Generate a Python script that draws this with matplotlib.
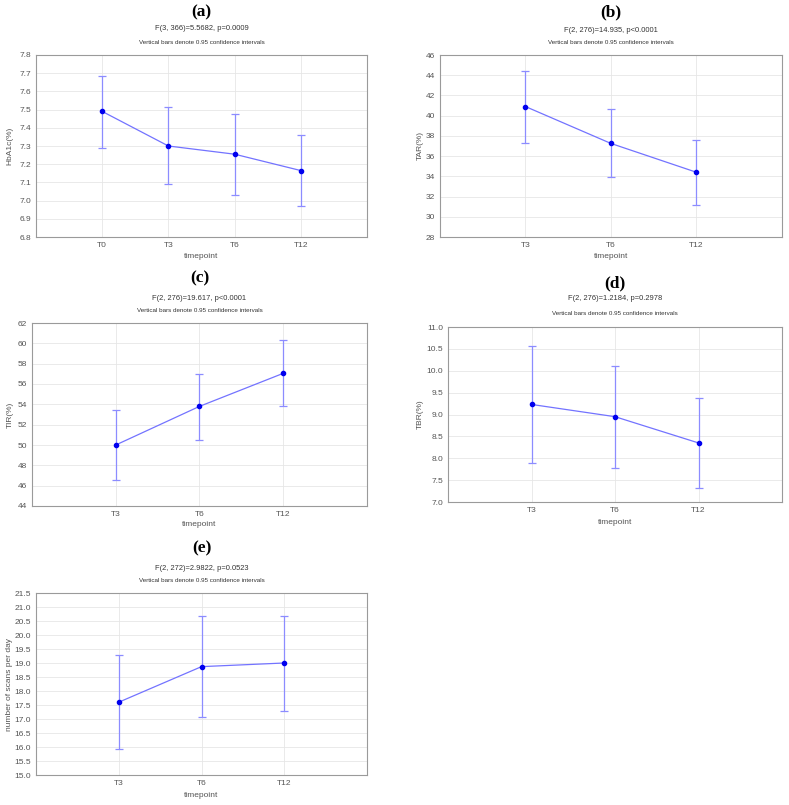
import matplotlib
matplotlib.use("Agg")
import matplotlib.pyplot as plt
import numpy as np

plt.rcParams['font.family'] = ['Liberation Sans', 'DejaVu Sans']

# ---------------- data ----------------
cats_a = ["T0", "T3", "T6", "T12"]
mean_a = [7.49, 7.30, 7.255, 7.165]
low_a = [7.29, 7.09, 7.03, 6.97]
high_a = [7.685, 7.515, 7.478, 7.36]

cats_b = ["T3", "T6", "T12"]
mean_b = [40.9, 37.25, 34.4]
low_b = [37.3, 33.9, 31.2]
high_b = [44.4, 40.7, 37.6]

cats_c = ["T3", "T6", "T12"]
mean_c = [50.0, 53.8, 57.05]
low_c = [46.55, 50.5, 53.85]
high_c = [53.4, 57.0, 60.3]

cats_d = ["T3", "T6", "T12"]
mean_d = [9.23, 8.95, 8.35]
low_d = [7.9, 7.78, 7.33]
high_d = [10.57, 10.12, 9.38]

cats_e = ["T3", "T6", "T12"]
mean_e = [17.6, 18.87, 19.0]
low_e = [15.93, 17.08, 17.3]
high_e = [19.3, 20.68, 20.68]

panel_letters = ["(a)", "(b)", "(c)", "(d)", "(e)"]
stats_text = ["F(3, 366)=5.5682, p=0.0009",
              "F(2, 276)=14.935, p<0.0001",
              "F(2, 276)=19.617, p<0.0001",
              "F(2, 276)=1.2184, p=0.2978",
              "F(2, 272)=2.9822, p=0.0523"]
subtitle = "Vertical bars denote 0.95 confidence intervals"
ylabels = ["HbA1c(%)", "TAR(%)", "TIR(%)", "TBR(%)", "number of scans per day"]
xlabel = "timepoint"
yticks_all = [np.arange(6.8, 7.81, 0.1), np.arange(28, 46.1, 2), np.arange(44, 62.1, 2),
              np.arange(7.0, 11.01, 0.5), np.arange(15.0, 21.51, 0.5)]
ytick_fmt = ["{:.1f}", "{:.0f}", "{:.0f}", "{:.1f}", "{:.1f}"]

# ---------------- layout (pixels) ----------------
W, H = 789, 805
fig = plt.figure(figsize=(W / 100, H / 100), dpi=100)

# (left, top, right, bottom) in pixels
boxes = [(36, 55, 367, 237), (440, 55, 782, 237), (32, 323, 367, 506),
         (448, 327, 782, 502), (36, 593, 367, 775)]
title_y = [12, 12, 278, 283, 548]
stat_y = [29, 30, 298, 298, 569]
sub_y = [42, 42, 311, 313, 580]
xlab_y = [256, 256, 525, 522, 795]
ylab_x = [10, 420, 10, 420, 10]

series = [(cats_a, mean_a, low_a, high_a), (cats_b, mean_b, low_b, high_b),
          (cats_c, mean_c, low_c, high_c), (cats_d, mean_d, low_d, high_d),
          (cats_e, mean_e, low_e, high_e)]

tick_col = "#555555"
for i, (cats, m, lo, hi) in enumerate(series):
    l, t, r, b = boxes[i]
    ax = fig.add_axes([l / W, 1 - b / H, (r - l) / W, (b - t) / H])
    x = np.arange(len(cats))
    m = np.array(m); lo = np.array(lo); hi = np.array(hi)
    ax.errorbar(x, m, yerr=[m - lo, hi - m], fmt="none", ecolor="#8c8cff",
                elinewidth=0.9, capsize=3.2, capthick=0.9, zorder=3)
    ax.plot(x, m, color="#7373ff", lw=0.9, zorder=4)
    ax.plot(x, m, "o", color="#0000ee", ms=3.0, zorder=5)
    ax.set_xlim(-1, len(cats))
    yt = yticks_all[i]
    ax.set_ylim(yt[0], yt[-1])
    ax.set_yticks(yt)
    ax.set_yticklabels([ytick_fmt[i].format(v) for v in yt])
    ax.set_xticks(x)
    ax.set_xticklabels(cats)
    ax.grid(True, color="#e6e6e6", lw=0.6)
    ax.set_axisbelow(True)
    for s in ax.spines.values():
        s.set_color("#9a9a9a")
        s.set_linewidth(0.8)
    ax.tick_params(length=0, labelsize=6, colors=tick_col, pad=3.5)
    cx = (l + r) / 2 / W
    fig.text(cx, 1 - title_y[i] / H, panel_letters[i], ha="center", va="center",
             family="Liberation Serif", fontweight="bold", fontsize=12.5)
    fig.text(cx, 1 - stat_y[i] / H, stats_text[i], ha="center", va="center",
             fontsize=5.4, color="#333333")
    fig.text(cx, 1 - sub_y[i] / H, subtitle, ha="center", va="center",
             fontsize=4.5, color="#333333")
    fig.text(cx, 1 - xlab_y[i] / H, xlabel, ha="center", va="center",
             fontsize=6, color=tick_col)
    fig.text(ylab_x[i] / W, 1 - (t + b) / 2 / H, ylabels[i], ha="center", va="center",
             rotation=90, fontsize=6, color=tick_col)

fig.savefig("out.png", dpi=100)
